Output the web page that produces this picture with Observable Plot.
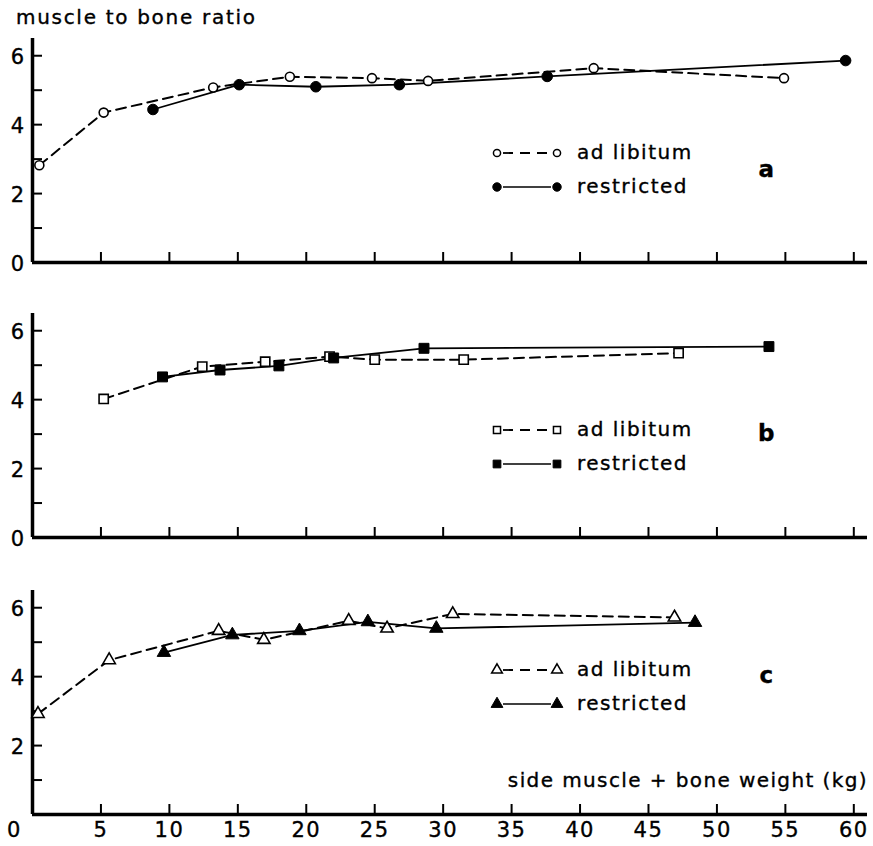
<!DOCTYPE html>
<html>
<head>
<meta charset="utf-8">
<script src="https://cdn.jsdelivr.net/npm/d3@7"></script>
<script src="https://cdn.jsdelivr.net/npm/@observablehq/plot@0.6"></script>
<style>
  body { margin: 0; background: #fff; }
  #fig { position: relative; width: 873px; height: 846px; background: #fff; color: #000;
         font-family: "DejaVu Sans", sans-serif; }
  #fig svg { position: absolute; left: 0; overflow: visible; background: transparent;
             font-family: "DejaVu Sans", sans-serif; font-size: 20px; }
  #fig svg text { letter-spacing: 1.5px; stroke: #000; stroke-width: 0.35px; }
  #fig svg [aria-label$="tick label"] text { font-size: 21px; }
  #fig .ytitle { position: absolute; left: 16px; top: 7px; font-size: 20px; line-height: 20px;
                 letter-spacing: 1.7px; white-space: nowrap; -webkit-text-stroke: 0.35px #000; }
</style>
</head>
<body>
<div id="fig"></div>
<script>
// Axis titles, legend entries, panel letters
const yTitle = "muscle to bone ratio";
const xTitle = "side muscle + bone weight (kg)";
const seriesNames = ["ad libitum", "restricted"];
const panelLetters = ["a", "b", "c"];

// Tick values
const yTicks = [0, 1, 2, 3, 4, 5, 6];
const yLabelsTop = [0, 2, 4, 6];
const yLabelsBottom = [2, 4, 6];
const xTicks = [5, 10, 15, 20, 25, 30, 35, 40, 45, 50, 55, 60];

// Panel a (circles): side muscle + bone weight (kg) and muscle:bone ratio
const aAdLibWeight = [0.5, 5.2, 13.2, 18.8, 24.8, 28.9, 41.0, 54.9];
const aAdLibRatio  = [2.82, 4.35, 5.08, 5.39, 5.35, 5.27, 5.64, 5.35];
const aRestrWeight = [8.8, 15.1, 20.7, 26.8, 37.6, 59.4];
const aRestrRatio  = [4.44, 5.16, 5.10, 5.16, 5.40, 5.86];

// Panel b (squares)
const bAdLibWeight = [5.2, 12.4, 17.0, 21.7, 25.0, 31.5, 47.2];
const bAdLibRatio  = [4.02, 4.96, 5.10, 5.25, 5.16, 5.16, 5.35];
const bRestrWeight = [9.5, 13.7, 18.0, 22.0, 28.6, 53.8];
const bRestrRatio  = [4.66, 4.86, 4.98, 5.21, 5.49, 5.54];

// Panel c (triangles)
const cAdLibWeight = [0.4, 5.6, 13.6, 16.9, 23.1, 25.9, 30.7, 46.9];
const cAdLibRatio  = [2.92, 4.48, 5.33, 5.07, 5.62, 5.40, 5.82, 5.72];
const cRestrWeight = [9.6, 14.6, 19.5, 24.5, 29.5, 48.4];
const cRestrRatio  = [4.70, 5.21, 5.33, 5.59, 5.40, 5.57];

const zip = (xs, ys) => xs.map((w, i) => ({w, r: ys[i]}));

const d3Symbols = {circle: d3.symbolCircle, square: d3.symbolSquare, triangle: d3.symbolTriangle};

// Legend (two rows), panel letter, and optional x-axis title, drawn inside the frame
function legendMark({symbol, letter, rowY, letterY, withXTitle}) {
  return (index, scales, values, dims) => {
    const g = d3.create("svg:g").attr("text-anchor", "start");
    const top = dims.marginTop;
    const openPath = d3.symbol().type(d3Symbols[symbol]).size(symbol === "circle" ? 40 : 50)();
    const fillPath = d3.symbol().type(d3Symbols[symbol]).size(symbol === "circle" ? 56 : 60)();
    const xa = 497, xb = 557, xt = 577;
    seriesNames.forEach((name, i) => {
      const cy = top + rowY + i * 34;
      g.append("line")
        .attr("x1", xa + 6).attr("x2", xb - 6).attr("y1", cy).attr("y2", cy)
        .attr("stroke", "black")
        .attr("stroke-width", i === 0 ? 1.8 : 1.6)
        .attr("stroke-dasharray", i === 0 ? "10,7" : null);
      for (const x of [xa, xb]) {
        g.append("path")
          .attr("d", i === 0 ? openPath : fillPath)
          .attr("transform", `translate(${x},${cy})`)
          .attr("fill", i === 0 ? "white" : "black")
          .attr("stroke", "black")
          .attr("stroke-width", i === 0 ? 1.5 : 1);
      }
      g.append("text")
        .attr("x", xt).attr("y", cy + 6)
        .attr("text-anchor", "start")
        .attr("fill", "black")
        .text(name);
    });
    g.append("text")
      .attr("x", 767).attr("y", top + letterY)
      .attr("text-anchor", "middle")
      .attr("font-weight", "bold")
      .attr("font-size", 23)
      .attr("fill", "black")
      .text(letter);
    if (withXTitle) {
      g.append("text")
        .attr("x", 868).attr("y", dims.height - dims.marginBottom - 27)
        .attr("text-anchor", "end")
        .attr("fill", "black")
        .style("letter-spacing", "1.4px")
        .text(xTitle);
    }
    return g.node();
  };
}

function panel({adW, adR, reW, reR, symbol, letter, top, height, marginBottom, rowY, letterY, bottom}) {
  const ad = zip(adW, adR);
  const re = zip(reW, reR);
  const fmt = d => String(d);
  const marks = [
    Plot.ruleX([0], {strokeWidth: 3.5}),
    Plot.ruleY([0], {strokeWidth: 3.5}),
    Plot.axisY({ticks: yTicks, tickSize: 10, dx: 10, tickFormat: () => "", strokeWidth: 2, label: null}),
    Plot.axisY({ticks: bottom ? yLabelsBottom : yLabelsTop, tickSize: 0, tickPadding: 7, dy: 2,
                tickFormat: fmt, label: null}),
    Plot.axisX({ticks: xTicks, tickSize: 10, dy: -10, tickFormat: () => "", strokeWidth: 2, label: null}),
    Plot.line(ad, {x: "w", y: "r", stroke: "black", strokeWidth: 2, strokeDasharray: "10,6"}),
    Plot.line(re, {x: "w", y: "r", stroke: "black", strokeWidth: 1.8}),
    Plot.dot(ad, {x: "w", y: "r", symbol, r: symbol === "circle" ? 4.5 : (symbol === "square" ? 5.2 : 4.6),
                  fill: "white", stroke: "black", strokeWidth: 1.6}),
    Plot.dot(re, {x: "w", y: "r", symbol, r: symbol === "circle" ? 5.3 : (symbol === "square" ? 5.6 : 5.0),
                  fill: "black", stroke: "black", strokeWidth: 1}),
    legendMark({symbol, letter, rowY, letterY, withXTitle: bottom})
  ];
  if (bottom) {
    marks.push(Plot.axisX({ticks: xTicks, tickSize: 0, tickPadding: 8, tickFormat: fmt, label: null}));
    marks.push(Plot.axisX({ticks: [0], tickSize: 0, tickPadding: 8, dx: -18, tickFormat: fmt, label: null}));
  }
  const svg = Plot.plot({
    width: 873,
    height,
    marginLeft: 32,
    marginRight: 6,
    marginTop: 10,
    marginBottom,
    x: {domain: [0, 61]},
    y: {domain: [0, 6.5]},
    marks
  });
  svg.style.top = top + "px";
  return svg;
}

const fig = document.getElementById("fig");
const title = document.createElement("div");
title.className = "ytitle";
title.textContent = yTitle;
fig.appendChild(title);

fig.appendChild(panel({adW: aAdLibWeight, adR: aAdLibRatio, reW: aRestrWeight, reR: aRestrRatio,
  symbol: "circle", letter: panelLetters[0], top: 28, height: 244, marginBottom: 10,
  rowY: 115, letterY: 139, bottom: false}));
fig.appendChild(panel({adW: bAdLibWeight, adR: bAdLibRatio, reW: bRestrWeight, reR: bRestrRatio,
  symbol: "square", letter: panelLetters[1], top: 303, height: 244, marginBottom: 10,
  rowY: 117, letterY: 128, bottom: false}));
fig.appendChild(panel({adW: cAdLibWeight, adR: cAdLibRatio, reW: cRestrWeight, reR: cRestrRatio,
  symbol: "triangle", letter: panelLetters[2], top: 580, height: 266, marginBottom: 32,
  rowY: 80, letterY: 93, bottom: true}));
</script>
</body>
</html>
